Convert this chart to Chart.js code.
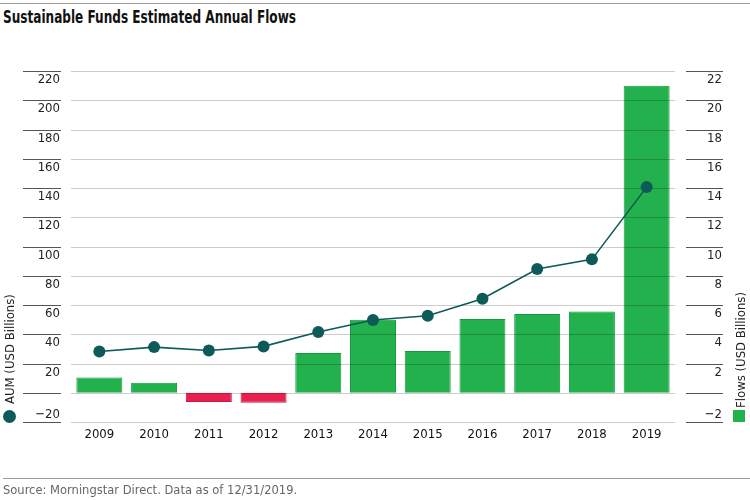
<!DOCTYPE html>
<html>
<head>
<meta charset="utf-8">
<script src="https://cdn.jsdelivr.net/npm/chart.js@4/dist/chart.umd.min.js"></script>
<style>
  body { margin: 0; background: #fff; }
  #wrap { position: relative; width: 750px; height: 500px; overflow: hidden;
          font-family: "Liberation Sans Narrow", "DejaVu Sans Condensed", "Roboto", sans-serif; }
  #chart { position: absolute; left: 0; top: 0; }
  .rule { position: absolute; left: 0; width: 750px; height: 0; border-top: 1px solid #9a9a9a; }
  #title { position: absolute; left: 3px; top: 7px; font-size: 17px; font-weight: bold; color: #111;
           white-space: nowrap; transform-origin: left top; transform: scaleX(0.79); }
  #source { position: absolute; left: 3px; top: 482px; font-size: 13px; color: #666;
            white-space: nowrap; transform-origin: left top; transform: scaleX(0.985); }
  .axis-title { position: absolute; font-size: 13px; color: #222; white-space: nowrap;
                transform-origin: left top; transform: rotate(-90deg); }
  .mark { position: absolute; }
</style>
</head>
<body>
<div id="wrap">
  <div class="rule" style="top:3px"></div>
  <div id="title">Sustainable Funds Estimated Annual Flows</div>
  <canvas id="chart" width="750" height="500"></canvas>
  <div class="axis-title" id="aumTitle" style="left:2px; top:404px">AUM (USD Billions)</div>
  <div class="mark" style="left:3px; top:410px; width:13px; height:13px; border-radius:50%; background:#0d5b59"></div>
  <div class="axis-title" id="flowTitle" style="left:733px; top:408px">Flows (USD Billions)</div>
  <div class="mark" style="left:733px; top:410px; width:12px; height:12px; background:#22b14c"></div>
  <div class="rule" style="top:478px; left:3px"></div>
  <div id="source">Source: Morningstar Direct. Data as of 12/31/2019.</div>
</div>
<script>
// Values
const years = ['2009', '2010', '2011', '2012', '2013', '2014', '2015', '2016', '2017', '2018', '2019'];
const aum = [28.2, 31.2, 28.9, 31.7, 41.5, 49.7, 52.6, 64.3, 84.6, 91.2, 140.6];   // USD billions, left axis
const flows = [1.05, 0.68, -0.64, -0.68, 2.71, 4.99, 2.85, 5.04, 5.38, 5.56, 21.0]; // USD billions, right axis
const aumTicks = { min: -20, max: 220, step: 20 };
const flowTicks = { min: -2, max: 22, step: 2 };

const GREEN = '#22b14c', GREEN_EDGE = '#17983d';
const RED = '#e8204f', RED_EDGE = '#c9163f';
const TEAL = '#0d5b59';
const FONT = '"Liberation Sans Narrow", "DejaVu Sans Condensed", Roboto, sans-serif';

function fmt(v) {
    return v < 0 ? '\u2212' + Math.abs(v) : String(v);
}

// grid lines over the bars, outer tick marks and hanging tick labels
const framePlugin = {
    id: 'frame',
    afterDatasetDraw(chart, args) {
        if (args.index !== 0) return;
        const ctx = chart.ctx, area = chart.chartArea, y = chart.scales.y;
        ctx.save();
        ctx.strokeStyle = 'rgba(0,0,0,0.2)';
        ctx.lineWidth = 1;
        y.ticks.forEach(t => {
            const py = Math.round(y.getPixelForValue(t.value)) + 0.5;
            ctx.beginPath();
            ctx.moveTo(area.left - 1, py);
            ctx.lineTo(area.right + 1, py);
            ctx.stroke();
        });
        ctx.restore();
    },
    afterDraw(chart) {
        const ctx = chart.ctx, area = chart.chartArea;
        ctx.save();
        ctx.font = '13px ' + FONT;
        ctx.fillStyle = '#222';
        ctx.textAlign = 'right';
        ctx.textBaseline = 'middle';
        const sides = [
            { scale: chart.scales.y, x0: area.left - 49, x1: area.left - 11, tx: area.left - 12 },
            { scale: chart.scales.y1, x0: area.right + 12, x1: area.right + 49, tx: area.right + 48 }
        ];
        sides.forEach(s => {
            s.scale.ticks.forEach(t => {
                const py = Math.round(s.scale.getPixelForValue(t.value)) + 0.5;
                ctx.strokeStyle = '#555';
                ctx.lineWidth = 1.2;
                ctx.beginPath();
                ctx.moveTo(s.x0, py);
                ctx.lineTo(s.x1, py);
                ctx.stroke();
                if (t.value === 0) return;
                const ly = t.value > 0 ? py + 8 : py - 8;
                ctx.fillText(fmt(t.value), s.tx, ly);
            });
        });
        ctx.restore();
    }
};

new Chart(document.getElementById('chart'), {
    type: 'bar',
    data: {
        labels: years,
        datasets: [{
            type: 'bar',
            label: 'Flows (USD Billions)',
            data: flows,
            yAxisID: 'y1',
            order: 1,
            backgroundColor: ctx => ctx.raw < 0 ? RED : GREEN,
            borderColor: ctx => ctx.raw < 0 ? RED_EDGE : GREEN_EDGE,
            borderWidth: 1,
            barPercentage: 0.84,
            categoryPercentage: 1
        }, {
            type: 'line',
            label: 'AUM (USD Billions)',
            data: aum,
            yAxisID: 'y',
            order: 0,
            borderColor: TEAL,
            borderWidth: 1.6,
            pointRadius: 6,
            pointBackgroundColor: TEAL,
            pointBorderColor: TEAL,
            pointBorderWidth: 0,
            tension: 0
        }]
    },
    options: {
        responsive: false,
        animation: false,
        layout: { padding: { top: 71, left: 0, right: 0, bottom: 0 } },
        plugins: { legend: { display: false }, tooltip: { enabled: false } },
        scales: {
            x: {
                grid: { display: false, drawTicks: false },
                border: { display: false },
                ticks: { color: '#111', font: { family: FONT, size: 13 }, padding: 5, maxRotation: 0 },
                afterFit: s => { s.height = 78; }
            },
            y: {
                position: 'left',
                min: aumTicks.min,
                max: aumTicks.max,
                ticks: { stepSize: aumTicks.step, display: false },
                grid: { display: false, drawTicks: false },
                border: { display: false },
                afterFit: s => { s.width = 72; }
            },
            y1: {
                position: 'right',
                min: flowTicks.min,
                max: flowTicks.max,
                ticks: { stepSize: flowTicks.step, display: false },
                grid: { display: false, drawTicks: false },
                border: { display: false },
                afterFit: s => { s.width = 76; }
            }
        }
    },
    plugins: [framePlugin]
});
</script>
</body>
</html>
